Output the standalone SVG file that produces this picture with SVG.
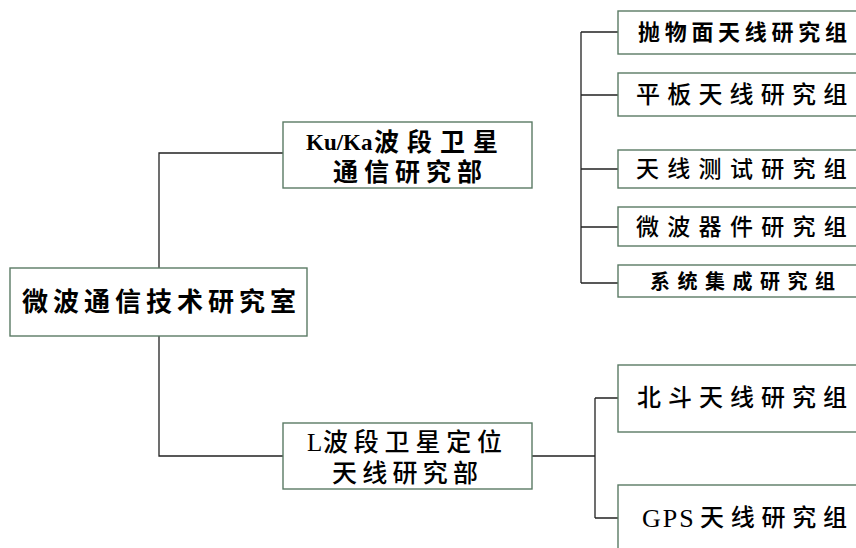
<svg xmlns="http://www.w3.org/2000/svg" width="856" height="548" viewBox="0 0 856 548">
<style>
.box{fill:#fff;stroke:#5a7a64;stroke-width:1.4}
.ln{fill:none;stroke:#222;stroke-width:1.3}
text{font-family:"Liberation Serif","Noto Sans CJK SC",serif;fill:#000;dominant-baseline:central}
.b{font-weight:bold}
.m{font-weight:500}
</style>
<rect width="856" height="548" fill="#fff"/>
<g id="connectors">
<path class="ln" d="M159,268 V153 H283"/>
<path class="ln" d="M159,336 V456 H283"/>
<path class="ln" d="M581,32 V283 M581,32 H618 M581,95 H618 M581,169 H618 M581,227 H618 M581,283 H618"/>
<path class="ln" d="M532,456 H595 M595,398 V518 M595,398 H618 M595,518 H618"/>
</g>
<g id="root">
<rect class="box" x="10" y="268" width="297" height="68"/>
<text class="b" x="22" y="302" font-size="26" letter-spacing="5">微波通信技术研究室</text>
</g>
<g id="kuka">
<rect class="box" x="283" y="122" width="249" height="66"/>
<text class="b" x="306" y="142" font-size="25"><tspan font-size="23">Ku/Ka</tspan><tspan x="374" letter-spacing="8">波段卫星</tspan></text>
<text class="b" x="333" y="172" font-size="25" letter-spacing="6">通信研究部</text>
</g>
<g id="lband">
<rect class="box" x="283" y="423" width="249" height="66"/>
<text class="m" x="307" y="442" font-size="25"><tspan font-weight="normal">L</tspan><tspan x="323" letter-spacing="5.8">波段卫星定位</tspan></text>
<text class="m" x="332" y="473" font-size="25" letter-spacing="5.25">天线研究部</text>
</g>
<g id="g1">
<rect class="box" x="618" y="11" width="250" height="43"/>
<text class="b" x="638" y="32" font-size="22" letter-spacing="4.7">抛物面天线研究组</text>
</g>
<g id="g2">
<rect class="box" x="618" y="73" width="250" height="43"/>
<text class="m" x="636" y="95" font-size="24" letter-spacing="7.2">平板天线研究组</text>
</g>
<g id="g3">
<rect class="box" x="618" y="150" width="250" height="38"/>
<text class="m" x="636" y="169" font-size="23" letter-spacing="8.3">天线测试研究组</text>
</g>
<g id="g4">
<rect class="box" x="618" y="207" width="250" height="39"/>
<text class="m" x="636" y="227" font-size="23" letter-spacing="8.3">微波器件研究组</text>
</g>
<g id="g5">
<rect class="box" x="618" y="265" width="250" height="32"/>
<text class="b" x="650" y="282" font-size="20" letter-spacing="7.5">系统集成研究组</text>
</g>
<g id="beidou">
<rect class="box" x="618" y="365" width="250" height="67"/>
<text class="m" x="637" y="398" font-size="24" letter-spacing="7">北斗天线研究组</text>
</g>
<g id="gps">
<rect class="box" x="618" y="485" width="250" height="80"/>
<text class="m" x="642" y="518" font-size="24"><tspan font-size="26" font-weight="normal" letter-spacing="2">GPS</tspan><tspan x="700" letter-spacing="6.75">天线研究组</tspan></text>
</g>
</svg>
